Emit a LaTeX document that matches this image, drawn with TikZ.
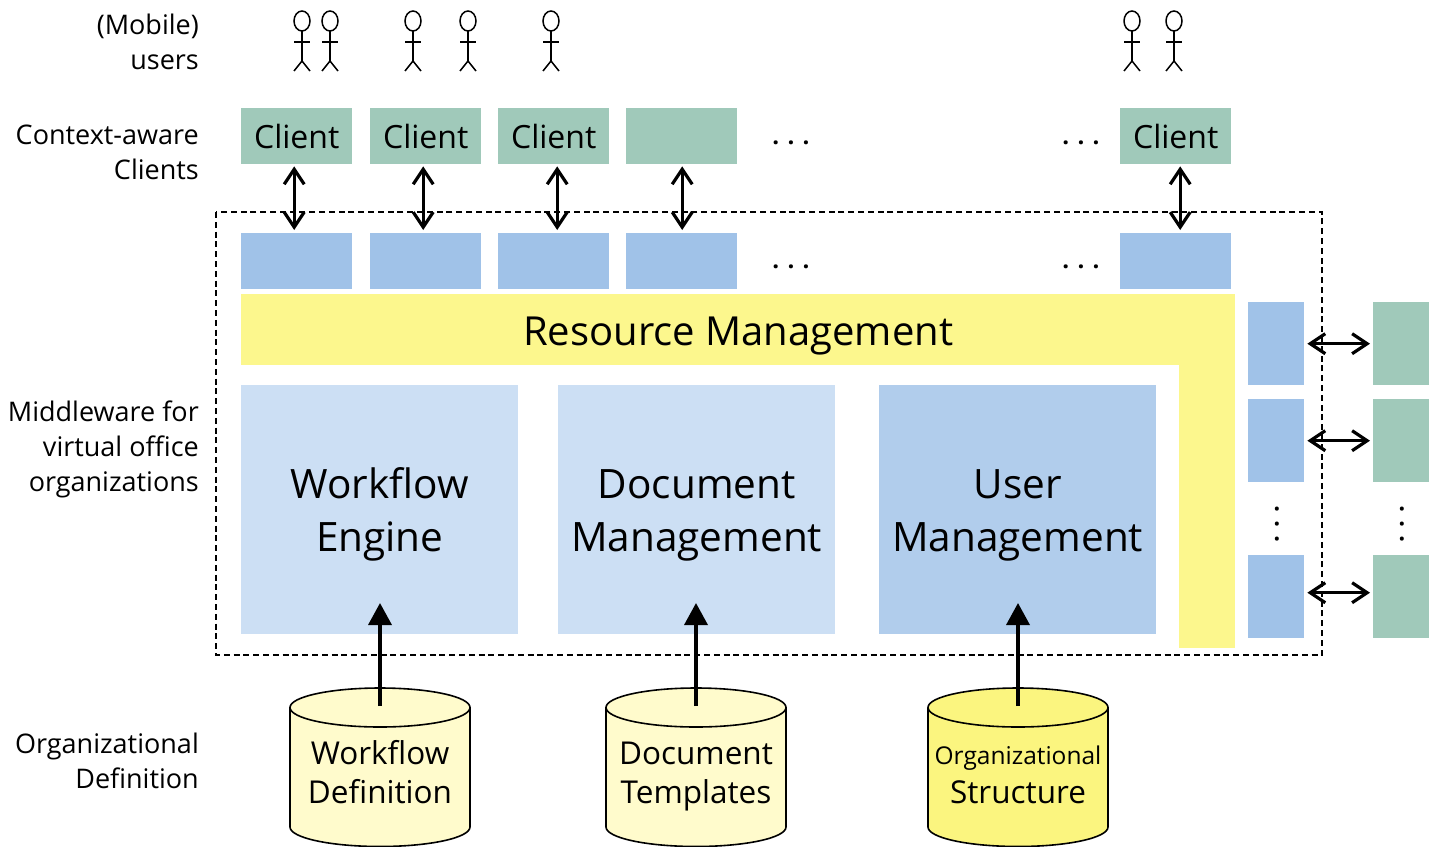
\documentclass[tikz,border=0pt]{standalone}
\usepackage{fontspec}
\usepackage{xcolor}
\usetikzlibrary{arrows.meta}
\setmainfont{Open Sans}
\definecolor{clientgreen}{HTML}{A0C9BA}
\definecolor{proxyblue}{HTML}{A0C2E8}
\definecolor{paleblue}{HTML}{CCDFF4}
\definecolor{userblue}{HTML}{B1CDEC}
\definecolor{resyellow}{HTML}{FCF78D}
\definecolor{dbyellow}{HTML}{FFFBCC}
\definecolor{orgyellow}{HTML}{FBF57F}
\tikzset{
  clientbox/.style={fill=clientgreen,anchor=north west,inner sep=0,minimum width=111pt,minimum height=56pt,font=\fontsize{32}{32}\selectfont},
  proxybox/.style={fill=proxyblue,anchor=north west,inner sep=0,minimum width=111pt,minimum height=56pt},
  sideblue/.style={fill=proxyblue,anchor=north west,inner sep=0,minimum width=56pt,minimum height=83pt},
  sidegreen/.style={fill=clientgreen,anchor=north west,inner sep=0,minimum width=56pt,minimum height=83pt},
  modulebox/.style={anchor=north west,inner sep=0,minimum width=277pt,minimum height=249pt,align=center,text height=94pt,font=\fontsize{40.5}{53}\selectfont},
  resbox/.style={fill=resyellow,anchor=north west,inner sep=0},
  dblabel/.style={inner sep=0,align=center,font=\fontsize{31.5}{39}\selectfont},
  sidelabel/.style={anchor=east,align=right,inner sep=0,font=\fontsize{27}{35}\selectfont},
  dotsnode/.style={inner sep=0,font=\bfseries\fontsize{24}{24}\selectfont},
  twoway/.style={line width=3.2pt,{Straight Barb[length=15pt,width=20pt,line width=3.2pt]}-{Straight Barb[length=15pt,width=20pt,line width=3.2pt]}},
  oneway/.style={line width=3.6pt,-{Triangle[length=22pt,width=23pt]}},
  stickman/.pic={
    \draw[line width=1.5pt] (0,21) ellipse (8 and 10);
    \draw[line width=1.5pt] (0,31) -- (0,61);
    \draw[line width=1.5pt] (-8,42) -- (8,42);
    \draw[line width=1.5pt] (-8,71) -- (0,61) -- (8,71);
  },
  dbcan/.pic={
    \path[pic actions,draw=black,line width=1.6pt] (-90,19.5) -- (-90,139) arc[start angle=180,end angle=360,x radius=90,y radius=-19.5] -- (90,19.5) arc[start angle=0,end angle=180,x radius=90,y radius=-19.5] -- cycle;
    \draw[line width=1.6pt] (-90,19.5) arc[start angle=180,end angle=360,x radius=90,y radius=-19.5];
  }
}
\begin{document}
\begin{tikzpicture}[x=1pt,y=-1pt]
\useasboundingbox (0,0) rectangle (1437,846);
% users
\pic at (302,0) {stickman};
\pic at (330,0) {stickman};
\pic at (413,0) {stickman};
\pic at (468,0) {stickman};
\pic at (551,0) {stickman};
\pic at (1132,0) {stickman};
\pic at (1174,0) {stickman};
% labels on the left
\node[sidelabel] (usersl) at (199,42) {(Mobile)\\users};
\node[sidelabel] (clientsl) at (199,152) {Context-aware\\Clients};
\node[sidelabel] (middlel) at (199,449) {Middleware for\\virtual office\\organizations};
\node[sidelabel] (orgl) at (199,761) {Organizational\\Definition};
% clients
\node[clientbox] (c1) at (241,108) {Client};
\node[clientbox] (c2) at (370,108) {Client};
\node[clientbox] (c3) at (498,108) {Client};
\node[clientbox] (c4) at (626,108) {};
\node[clientbox] (c5) at (1120,108) {Client};
\node[dotsnode] (cd1) at (791,143) {. . .};
\node[dotsnode] (cd2) at (1081,143) {. . .};
% proxies
\node[proxybox] (p1) at (241,233) {};
\node[proxybox] (p2) at (370,233) {};
\node[proxybox] (p3) at (498,233) {};
\node[proxybox] (p4) at (626,233) {};
\node[proxybox] (p5) at (1120,233) {};
\node[dotsnode] (pd1) at (791,267) {. . .};
\node[dotsnode] (pd2) at (1081,267) {. . .};
% resource management
\node[resbox,minimum width=994pt,minimum height=71pt,text height=41pt,font=\fontsize{40}{40}\selectfont] (res) at (241,294) {Resource Management};
\node[resbox,minimum width=56pt,minimum height=284pt] (resv) at (1179,364) {};
% modules
\node[modulebox,fill=paleblue] (wf) at (241,385) {Workflow\\Engine};
\node[modulebox,fill=paleblue] (doc) at (558,385) {Document\\Management};
\node[modulebox,fill=userblue] (um) at (879,385) {User\\Management};
% right column
\node[sideblue] (s1) at (1248,302) {};
\node[sideblue] (s2) at (1248,399) {};
\node[sideblue] (s3) at (1248,555) {};
\node[sidegreen] (e1) at (1373,302) {};
\node[sidegreen] (e2) at (1373,399) {};
\node[sidegreen] (e3) at (1373,555) {};
\node[dotsnode,rotate=90] (sd1) at (1277,524) {. . .};
\node[dotsnode,rotate=90] (sd2) at (1402,524) {. . .};
% databases
\pic[fill=dbyellow] at (380,688) {dbcan};
\pic[fill=dbyellow] at (696,688) {dbcan};
\pic[fill=orgyellow] at (1018,688) {dbcan};
\node[dblabel] (db1) at (380,772) {Workflow\\Definition};
\node[dblabel] (db2) at (696,777) {Document\\Templates};
\node[dblabel] (db3) at (1018,775) {{\fontsize{24.5}{35}\selectfont Organizational}\\Structure};
% dashed frame
\draw[dashed,line width=1.5pt,dash pattern=on 6pt off 3.8pt] (216,212) rectangle (1322,655);
% connectors
\draw[twoway] ([xshift=-2.5pt,yshift=-2pt]c1.south) -- ([xshift=-2.5pt,yshift=3pt]p1.north);
\draw[twoway] ([xshift=-2.5pt,yshift=-2pt]c2.south) -- ([xshift=-2.5pt,yshift=3pt]p2.north);
\draw[twoway] ([xshift=3.5pt,yshift=-2pt]c3.south) -- ([xshift=3.5pt,yshift=3pt]p3.north);
\draw[twoway] ([xshift=0.5pt,yshift=-2pt]c4.south) -- ([xshift=0.5pt,yshift=3pt]p4.north);
\draw[twoway] ([xshift=4.5pt,yshift=-2pt]c5.south) -- ([xshift=4.5pt,yshift=3pt]p5.north);
\draw[twoway] ([xshift=3pt]s1.east) -- ([xshift=-3pt]e1.west);
\draw[twoway] ([xshift=3pt]s2.east) -- ([xshift=-3pt]e2.west);
\draw[twoway] ([xshift=3pt,yshift=4pt]s3.east) -- ([xshift=-3pt,yshift=4pt]e3.west);
\coordinate (w1) at (380,706);
\coordinate (w2) at (696,706);
\coordinate (w3) at (1018,706);
\coordinate (t1) at (380,603);
\coordinate (t2) at (696,603);
\coordinate (t3) at (1018,603);
\draw[oneway] (w1) -- (t1);
\draw[oneway] (w2) -- (t2);
\draw[oneway] (w3) -- (t3);
\end{tikzpicture}
\end{document}
